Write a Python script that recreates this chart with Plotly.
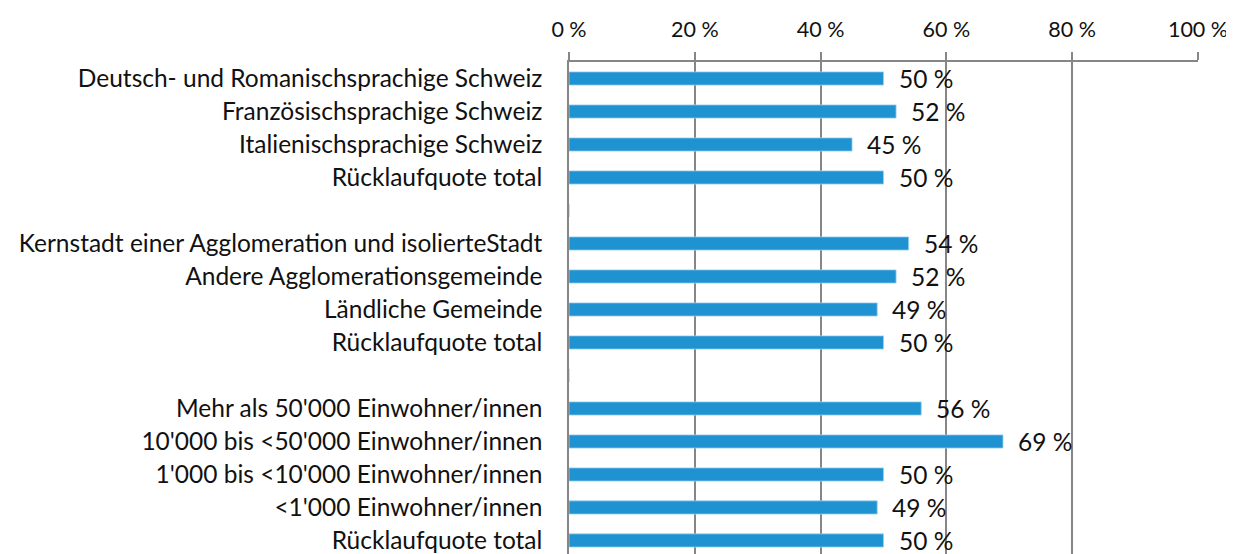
import plotly.graph_objects as go

categories = [
    "Deutsch- und Romanischsprachige Schweiz",
    "Französischsprachige Schweiz",
    "Italienischsprachige Schweiz",
    "Rücklaufquote total",
    "",
    "Kernstadt einer Agglomeration und isolierteStadt",
    "Andere Agglomerationsgemeinde",
    "Ländliche Gemeinde",
    "Rücklaufquote total",
    "",
    "Mehr als 50'000 Einwohner/innen",
    "10'000 bis <50'000 Einwohner/innen",
    "1'000 bis <10'000 Einwohner/innen",
    "<1'000 Einwohner/innen",
    "Rücklaufquote total",
]
values = [50, 52, 45, 50, None, 54, 52, 49, 50, None, 56, 69, 50, 49, 50]
x_ticks = [0, 20, 40, 60, 80, 100]
x_ticktext = ["0 %", "20 %", "40 %", "60 %", "80 %", "100 %"]

pos = list(range(len(categories)))
bx = [v if v is not None else 0 for v in values]

FONT = "Lato"
FS = 24.5
GRAY = "#868686"
TXT = "#111111"

fig = go.Figure()
fig.add_trace(go.Bar(
    x=bx, y=pos, orientation="h", width=0.4,
    marker=dict(color="#1F93D1", line=dict(color="#9FD0EE", width=0.8)),
    hoverinfo="skip",
))

for p, v in zip(pos, values):
    if v is None:
        continue
    fig.add_annotation(x=v, y=p, text=f"{v} %", showarrow=False,
                       xanchor="left", yanchor="middle", xshift=13,
                       font=dict(family=FONT, size=FS, color=TXT))

# the page body adds an 8 px offset; the figure is sized to fill the rest of the window
fig.update_layout(
    width=1226, height=546,
    margin=dict(l=561, r=36, t=54, b=0, autoexpand=False),
    paper_bgcolor="white", plot_bgcolor="white",
    showlegend=False,
    font=dict(family=FONT, size=FS, color=TXT),
    xaxis=dict(
        side="top", range=[0, 100], tickvals=x_ticks, ticktext=x_ticktext,
        tickfont=dict(size=21.5),
        showgrid=True, gridcolor=GRAY, gridwidth=1.5,
        showline=True, linecolor=GRAY, linewidth=1.5,
        ticks="outside", ticklen=8, tickcolor=GRAY, tickwidth=1.5,
        ticklabelstandoff=7, ticklabeloverflow="allow",
        zeroline=False, fixedrange=True, automargin=False,
    ),
    yaxis=dict(
        range=[14.41, -0.5], tickvals=pos, ticktext=categories,
        showgrid=False, zeroline=False,
        showline=True, linecolor=GRAY, linewidth=1.5,
        ticks="outside", ticklen=20, tickcolor="rgba(0,0,0,0)",
        ticklabeloverflow="allow",
        fixedrange=True, automargin=False,
    ),
)

fig.write_html("out.html")
